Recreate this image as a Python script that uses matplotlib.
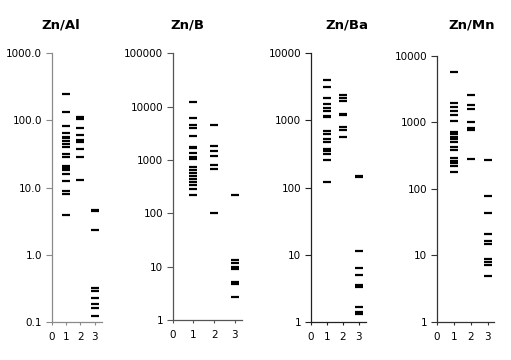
import matplotlib
matplotlib.use('Agg')
import matplotlib.pyplot as plt
from matplotlib.ticker import FixedLocator, FixedFormatter, NullLocator

plt.rcParams['font.family'] = ['DejaVu Sans']

# Zn/Al ratios for groups 1, 2, 3
al_1 = [243, 131, 82, 64, 57, 54, 49, 44, 40, 31, 28, 20.6, 19.2, 18, 16, 12.7, 8.8, 8.0, 3.9]
al_2 = [112, 104, 76, 60, 50, 47, 37.5, 28.4, 13]
al_3 = [4.7, 4.4, 2.3, 0.315, 0.294, 0.229, 0.186, 0.162, 0.122]

# Zn/B
b_1 = [12400, 6170, 4520, 3920, 2820, 1780, 1660, 1330, 1150, 1050, 750, 650, 560, 500, 440, 390, 340, 290, 225]
b_2 = [4520, 1830, 1480, 1180, 790, 690, 103]
b_3 = [218, 13.3, 11.9, 10, 9.1, 5.2, 4.7, 2.66]

# Zn/Ba
ba_1 = [4000, 3080, 2130, 1730, 1510, 1350, 1175, 1120, 693, 632, 520, 475, 377, 348, 320, 260, 119]
ba_2 = [2340, 2130, 1945, 1260, 1200, 795, 710, 560]
ba_3 = [148, 142, 11.2, 6.4, 5.0, 3.6, 3.3, 1.68, 1.4, 1.3]

# Zn/Mn
mn_1 = [5600, 1960, 1670, 1480, 1260, 1050, 720, 660, 600, 550, 500, 417, 380, 288, 263, 240, 219, 178]
mn_2 = [2550, 1800, 1580, 990, 810, 750, 275]
mn_3 = [269, 78, 43, 21, 16.2, 14.8, 8.7, 7.9, 7.2, 4.9]

titles = ['Zn/Al', 'Zn/B', 'Zn/Ba', 'Zn/Mn']
ytick_vals = [
    [0.1, 1, 10, 100, 1000],
    [1, 10, 100, 1000, 10000, 100000],
    [1, 10, 100, 1000, 10000],
    [1, 10, 100, 1000, 10000],
]
ytick_labels = [
    ['0.1', '1.0', '10.0', '100.0', '1000.0'],
    ['1', '10', '100', '1000', '10000', '100000'],
    ['1', '10', '100', '1000', '10000'],
    ['1', '10', '100', '1000', '10000'],
]
xtick_labels = ['0', '1', '2', '3']
groups = [
    [al_1, al_2, al_3],
    [b_1, b_2, b_3],
    [ba_1, ba_2, ba_3],
    [mn_1, mn_2, mn_3],
]

W, H = 511, 360
# axes boxes in pixels: left, top, right, bottom
boxes = [(52, 53, 101.7, 322), (172.7, 53.3, 241.7, 320), (311, 53, 366, 322), (437, 55.5, 494.3, 322)]
xmax = [3.5, 3.33, 3.44, 3.4]
title_x = [61, 187, 347, 472]
spine_col = ['#8a8a8a', '#555555', '#222222', '#333333']

fig = plt.figure(figsize=(W / 100, H / 100), dpi=100)

for i in range(4):
    l, t, r, b = boxes[i]
    ax = fig.add_axes([l / W, 1 - b / H, (r - l) / W, (b - t) / H])
    for j, vals in enumerate(groups[i]):
        ax.plot([j + 1] * len(vals), vals, linestyle='none', marker='_',
                markersize=5.8, markeredgewidth=1.6, color='black')
    ax.set_yscale('log')
    ax.set_ylim(ytick_vals[i][0], ytick_vals[i][-1])
    ax.set_xlim(0, xmax[i])
    ax.yaxis.set_major_locator(FixedLocator(ytick_vals[i]))
    ax.yaxis.set_major_formatter(FixedFormatter(ytick_labels[i]))
    ax.yaxis.set_minor_locator(NullLocator())
    ax.set_xticks([0, 1, 2, 3])
    ax.set_xticklabels(xtick_labels)
    for s in ['top', 'right']:
        ax.spines[s].set_visible(False)
    for s in ['left', 'bottom']:
        ax.spines[s].set_color(spine_col[i])
        ax.spines[s].set_linewidth(0.9)
    ax.tick_params(axis='y', length=4, width=0.8, pad=3, labelsize=7.5, colors=spine_col[i], labelcolor='black')
    ax.tick_params(axis='x', length=2.5, width=0.8, pad=4.5, labelsize=7.5, colors=spine_col[i], labelcolor='black')
    ax.patch.set_visible(False)
    fig.text(title_x[i] / W, 1 - 25 / H, titles[i], ha='center', va='center',
             fontsize=9.5, fontweight='bold')

fig.savefig('out.png', dpi=100)
